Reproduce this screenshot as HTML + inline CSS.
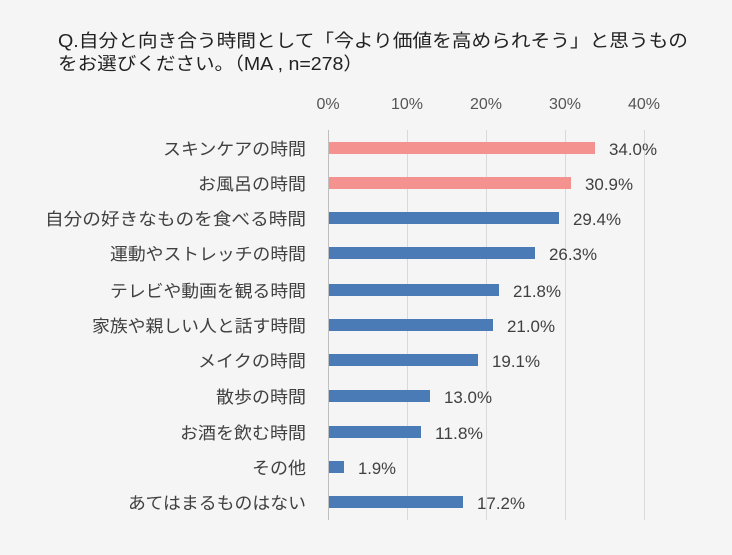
<!DOCTYPE html>
<html><head><meta charset="utf-8"><style>
body{margin:0;width:732px;height:550px;background:#f5f5f5;font-family:"Liberation Sans","Noto Sans CJK JP",sans-serif;overflow:hidden}
</style></head><body>
<svg width="732" height="550" xmlns="http://www.w3.org/2000/svg" font-family="Liberation Sans, Noto Sans CJK JP, sans-serif">
<rect width="732" height="550" fill="#f5f5f5"/>
<text x="58" y="47" font-size="18" fill="#222" textLength="630" lengthAdjust="spacingAndGlyphs">Q.自分と向き合う時間として「今より価値を高められそう」と思うもの</text>
<text x="58" y="70" font-size="18" fill="#222" textLength="305" lengthAdjust="spacingAndGlyphs">をお選びください。（MA , n=278）</text>
<g font-size="16" fill="#555" text-anchor="middle">
<text x="328" y="109">0%</text><text x="407" y="109">10%</text><text x="486" y="109">20%</text><text x="565" y="109">30%</text><text x="644" y="109">40%</text>
</g>
<g stroke="#d9d9d9" stroke-width="1">
<line x1="407.5" y1="130" x2="407.5" y2="520"/><line x1="486.5" y1="130" x2="486.5" y2="520"/><line x1="565.5" y1="130" x2="565.5" y2="520"/><line x1="644.5" y1="130" x2="644.5" y2="520"/>
</g>
<line x1="328.5" y1="130" x2="328.5" y2="520" stroke="#bfbfbf"/>
<g font-size="17" fill="#404040">
<g text-anchor="end">
<text x="306" y="155" textLength="143" lengthAdjust="spacingAndGlyphs">スキンケアの時間</text>
<text x="306" y="190" textLength="108" lengthAdjust="spacingAndGlyphs">お風呂の時間</text>
<text x="306" y="225" textLength="261" lengthAdjust="spacingAndGlyphs">自分の好きなものを食べる時間</text>
<text x="306" y="260" textLength="196" lengthAdjust="spacingAndGlyphs">運動やストレッチの時間</text>
<text x="306" y="297" textLength="196" lengthAdjust="spacingAndGlyphs">テレビや動画を観る時間</text>
<text x="306" y="332" textLength="214" lengthAdjust="spacingAndGlyphs">家族や親しい人と話す時間</text>
<text x="306" y="367" textLength="108" lengthAdjust="spacingAndGlyphs">メイクの時間</text>
<text x="306" y="403" textLength="90" lengthAdjust="spacingAndGlyphs">散歩の時間</text>
<text x="306" y="439" textLength="126" lengthAdjust="spacingAndGlyphs">お酒を飲む時間</text>
<text x="306" y="474" textLength="54" lengthAdjust="spacingAndGlyphs">その他</text>
<text x="306" y="509" textLength="178" lengthAdjust="spacingAndGlyphs">あてはまるものはない</text>
</g>
<rect x="329" y="142" width="266" height="12" fill="#f4928f"/>
<rect x="329" y="177" width="242" height="12" fill="#f4928f"/>
<rect x="329" y="212" width="230" height="12" fill="#4a7bb7"/>
<rect x="329" y="247" width="206" height="12" fill="#4a7bb7"/>
<rect x="329" y="284" width="170" height="12" fill="#4a7bb7"/>
<rect x="329" y="319" width="164" height="12" fill="#4a7bb7"/>
<rect x="329" y="354" width="149" height="12" fill="#4a7bb7"/>
<rect x="329" y="390" width="101" height="12" fill="#4a7bb7"/>
<rect x="329" y="426" width="92" height="12" fill="#4a7bb7"/>
<rect x="329" y="461" width="15" height="12" fill="#4a7bb7"/>
<rect x="329" y="496" width="134" height="12" fill="#4a7bb7"/>
<g font-size="17">
<text x="609" y="155" textLength="48" lengthAdjust="spacingAndGlyphs">34.0%</text>
<text x="585" y="190" textLength="48" lengthAdjust="spacingAndGlyphs">30.9%</text>
<text x="573" y="225" textLength="48" lengthAdjust="spacingAndGlyphs">29.4%</text>
<text x="549" y="260" textLength="48" lengthAdjust="spacingAndGlyphs">26.3%</text>
<text x="513" y="297" textLength="48" lengthAdjust="spacingAndGlyphs">21.8%</text>
<text x="507" y="332" textLength="48" lengthAdjust="spacingAndGlyphs">21.0%</text>
<text x="492" y="367" textLength="48" lengthAdjust="spacingAndGlyphs">19.1%</text>
<text x="444" y="403" textLength="48" lengthAdjust="spacingAndGlyphs">13.0%</text>
<text x="435" y="439" textLength="48" lengthAdjust="spacingAndGlyphs">11.8%</text>
<text x="358" y="474" textLength="38" lengthAdjust="spacingAndGlyphs">1.9%</text>
<text x="477" y="509" textLength="48" lengthAdjust="spacingAndGlyphs">17.2%</text>
</g>
</g>
</svg>
</body></html>
